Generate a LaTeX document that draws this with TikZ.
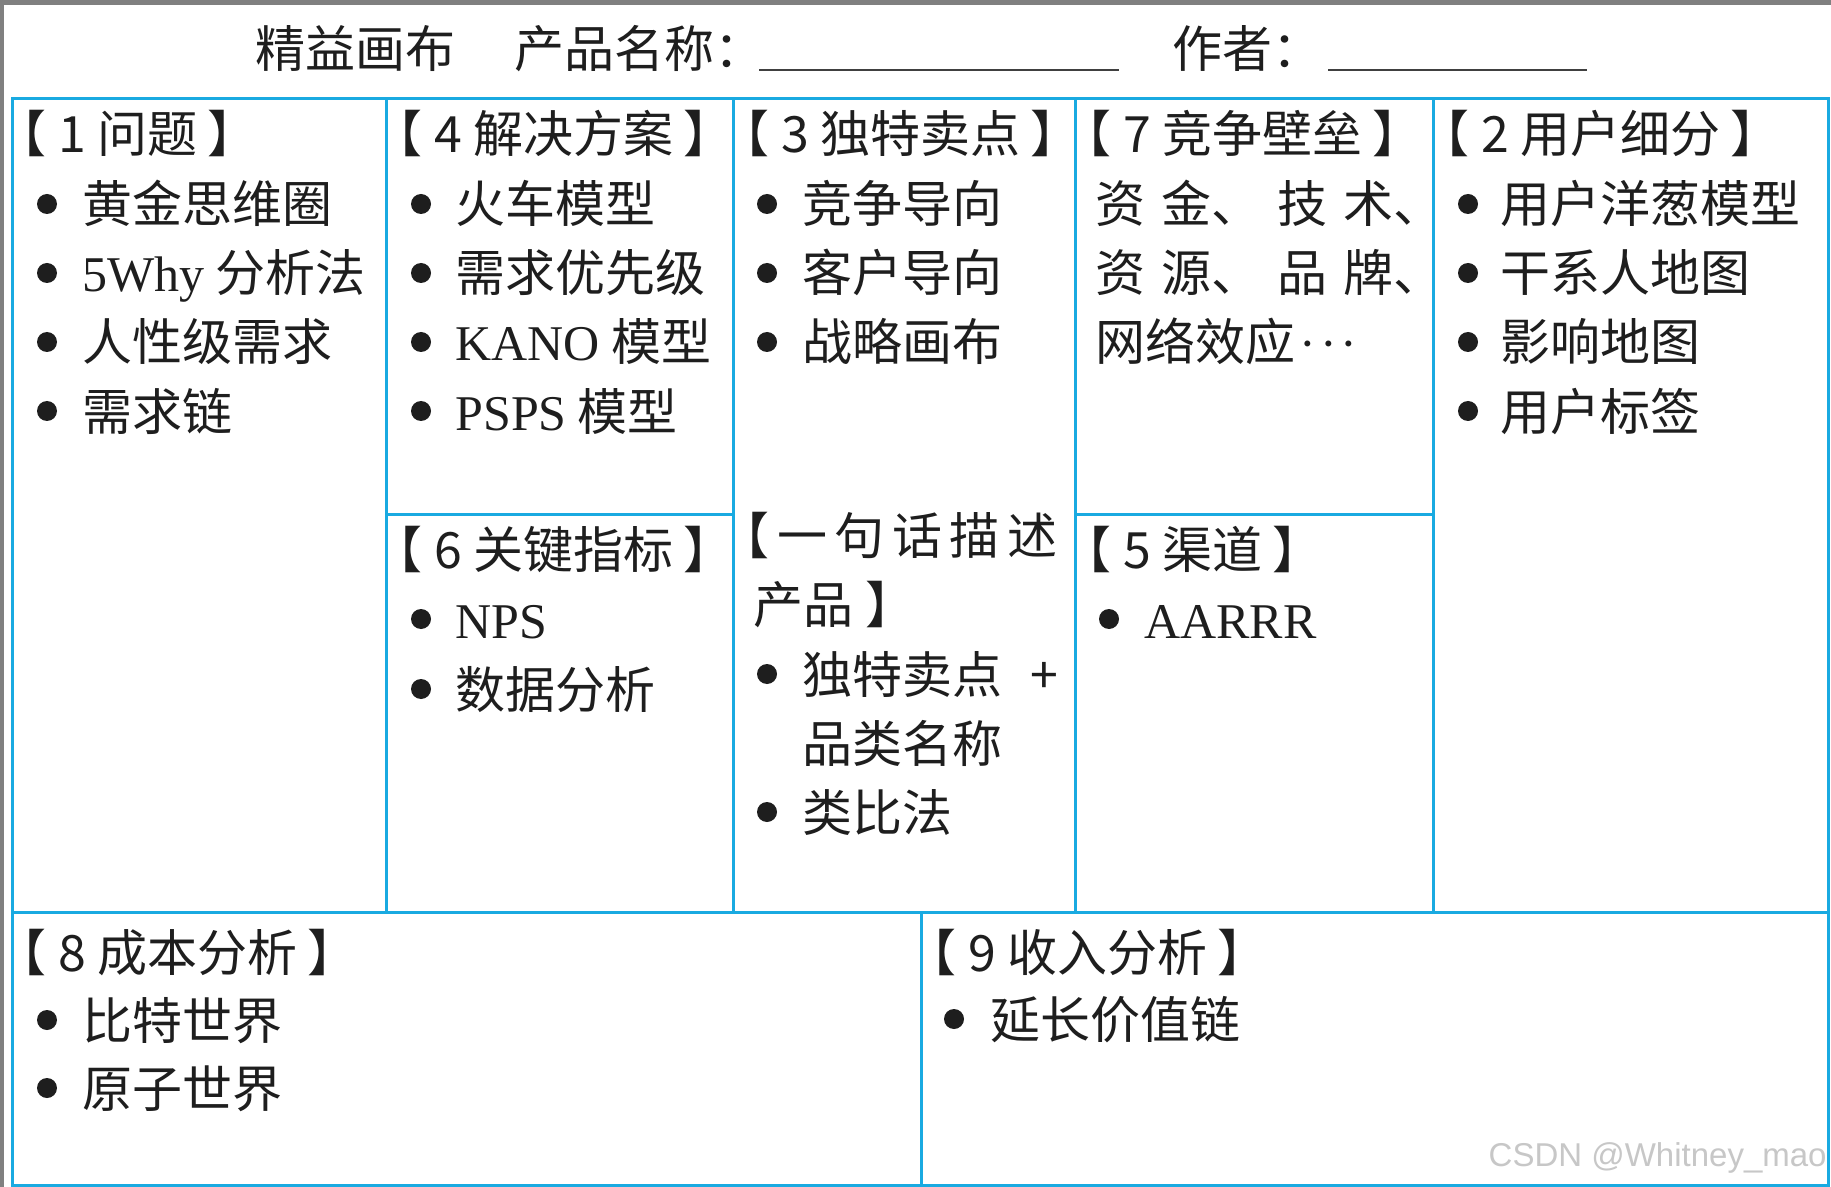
\documentclass[tikz,border=0pt]{standalone}
\usepackage{fontspec}
\setmainfont{Noto Sans CJK SC}
\newfontfamily\lat{Liberation Serif}
\newfontfamily\wmfont{Liberation Sans}
\definecolor{canvasblue}{RGB}{25,170,225}
\definecolor{ink}{RGB}{30,30,30}
\newcommand\brk[1]{【\hspace{6pt}#1\hspace{5pt}】}

\begin{document}
\begin{tikzpicture}[x=0.5pt, y=-0.5pt,
	every node/.style={font=\fontsize{25}{30}\selectfont, text=ink, inner sep=0pt},
	grid/.style={draw=canvasblue, line width=1.5pt},
	uline/.style={draw=ink!85, line width=1.1pt},
	head/.style={anchor=west, text height=22pt, text depth=3pt},
	itm/.style={anchor=west, text height=22pt, text depth=3pt},
	dot/.style={circle, fill=ink, minimum size=10pt, inner sep=0pt}]
	\useasboundingbox[fill=white] (0,0) rectangle (1831,1187);
	\fill[black!50] (0,0) rectangle (1831,5);
	\fill[black!50] (0,0) rectangle (4,1187);

	\node[anchor=west] (title) at (255,49) {精益画布};
	\node[anchor=west] (pname) at (514,49) {产品名称：};
	\draw[uline] (759,70) -- (1119,70);
	\node[anchor=west] (author) at (1172,49) {作者：};
	\draw[uline] (1328,70) -- (1587,70);

	\draw[grid] (12,99) rectangle (1828,1185);
	\draw[grid] (386,99) -- (386,912) (733,99) -- (733,912) (1075,99) -- (1075,912) (1433,99) -- (1433,912);
	\draw[grid] (12,912) -- (1828,912) (921,912) -- (921,1185);
	\draw[grid] (386,514) -- (733,514) (1075,514) -- (1433,514);

	\node[head] (h1) at (-4,134) {\brk{1 问题}};
	\foreach \t [count=\i] in {黄金思维圈, {{\lat 5Why} 分析法}, 人性级需求, 需求链}{
		\node[dot] (d1-\i) at (47,135+69*\i) {};
		\node[itm] (p1-\i) at (82,135+69*\i) {\t};
	}

	\node[head] (h4) at (372,134) {\brk{4 解决方案}};
	\foreach \t [count=\i] in {火车模型, 需求优先级, {{\lat KANO} 模型}, {{\lat PSPS} 模型}}{
		\node[dot] (d4-\i) at (421,135+69*\i) {};
		\node[itm] (p4-\i) at (455,135+69*\i) {\t};
	}
	\node[head] (h6) at (372,549) {\brk{6 关键指标}};
	\foreach \t [count=\i] in {{\lat NPS}, 数据分析}{
		\node[dot] (d6-\i) at (421,549+70*\i) {};
		\node[itm] (p6-\i) at (455,549+70*\i) {\t};
	}

	\node[head] (h3) at (719,134) {\brk{3 独特卖点}};
	\foreach \t [count=\i] in {竞争导向, 客户导向, 战略画布}{
		\node[dot] (d3-\i) at (767,135+69*\i) {};
		\node[itm] (p3-\i) at (802,135+69*\i) {\t};
	}
	\node[head] (h0) at (719,535) {\makebox[169pt][s]{【\hfil 一\hfil 句\hfil 话\hfil 描\hfil 述}};
	\node[head] (h0b) at (753,604) {产品\hspace{6pt}】};
	\node[dot] (d0-1) at (767,674) {};
	\node[itm] (p0-1) at (802,674) {独特卖点\hspace{14pt}+};
	\node[itm] (p0-1b) at (802,743) {品类名称};
	\node[dot] (d0-2) at (767,812) {};
	\node[itm] (p0-2) at (802,812) {类比法};

	\node[head] (h7) at (1061,134) {\brk{7 竞争壁垒}};
	\node[itm] (p7-1) at (1095,204) {\makebox[174pt][s]{资\hfil 金、\hfil 技\hfil 术、}};
	\node[itm] (p7-2) at (1095,273) {\makebox[174pt][s]{资\hfil 源、\hfil 品\hfil 牌、}};
	\node[itm] (p7-3) at (1095,342) {网络效应{\lat\hspace{2pt}·\hspace{2pt}·\hspace{2pt}·}};
	\node[head] (h5) at (1061,549) {\brk{5 渠道}};
	\node[dot] (d5-1) at (1109,619) {};
	\node[itm] (p5-1) at (1144,619) {\lat AARRR};

	\node[head] (h2) at (1419,134) {\brk{2 用户细分}};
	\foreach \t [count=\i] in {用户洋葱模型, 干系人地图, 影响地图, 用户标签}{
		\node[dot] (d2-\i) at (1468,135+69*\i) {};
		\node[itm] (p2-\i) at (1500,135+69*\i) {\t};
	}

	\node[head] (h8) at (-4,952) {\brk{8 成本分析}};
	\foreach \t [count=\i] in {比特世界, 原子世界}{
		\node[dot] (d8-\i) at (47,952+68*\i) {};
		\node[itm] (p8-\i) at (82,952+68*\i) {\t};
	}
	\node[head] (h9) at (906,952) {\brk{9 收入分析}};
	\node[dot] (d9-1) at (954,1019) {};
	\node[itm] (p9-1) at (990,1019) {延长价值链};

	\node[anchor=east, font=\wmfont\fontsize{16.5}{20}\selectfont, text=black!22] (wm) at (1827,1158) {CSDN @Whitney\_mao};
\end{tikzpicture}
\end{document}
